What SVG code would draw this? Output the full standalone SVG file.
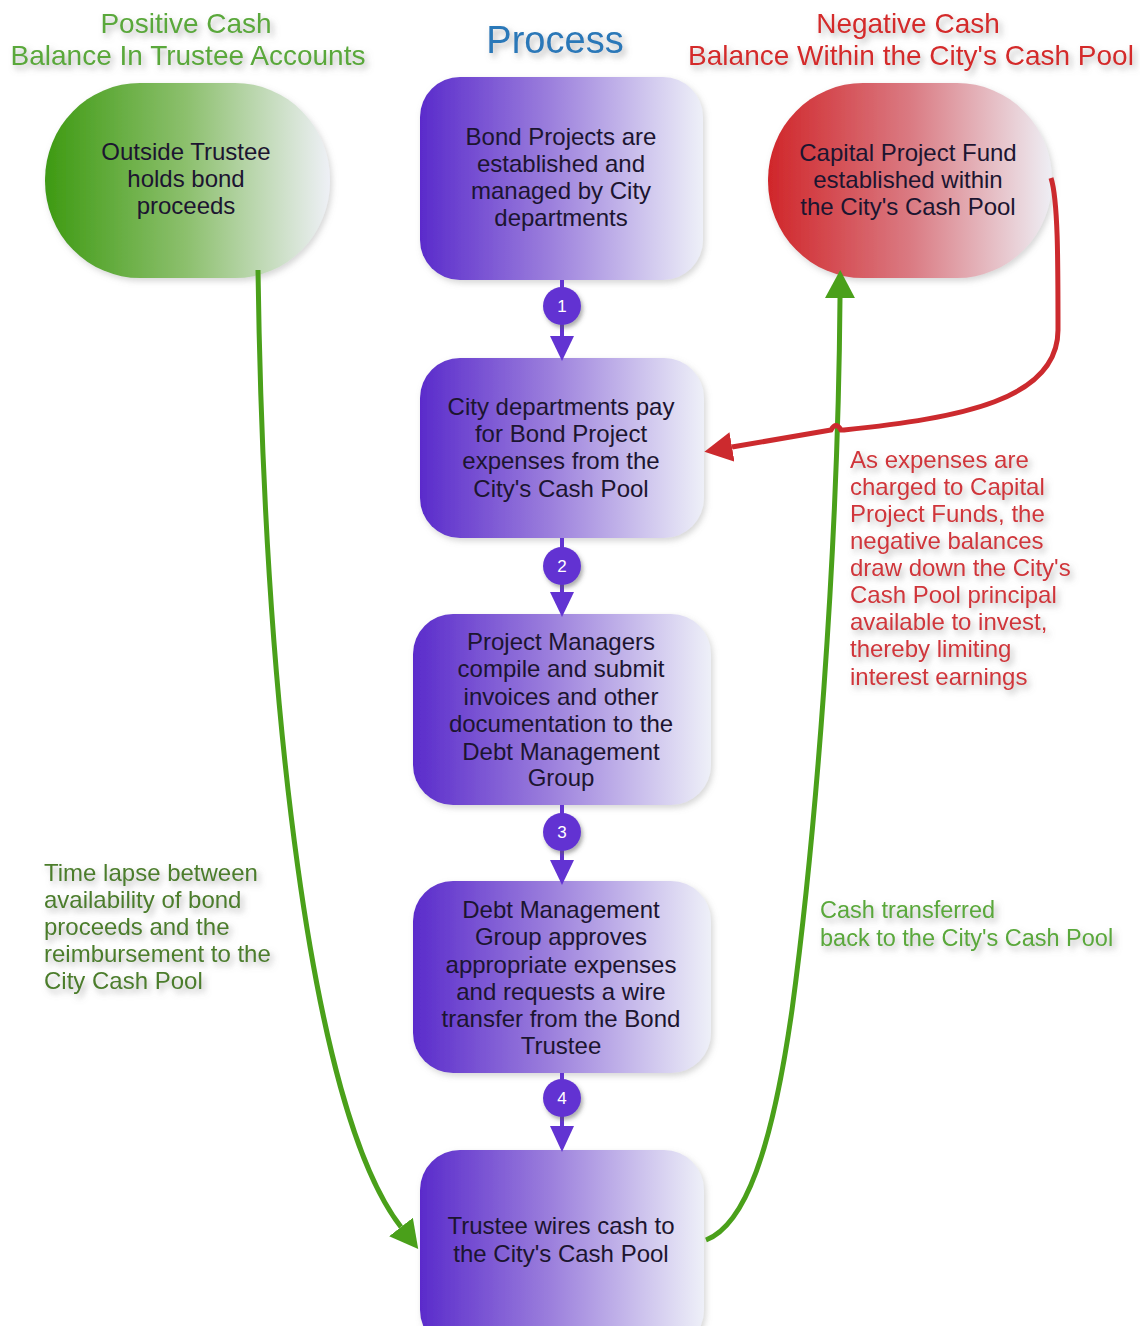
<svg xmlns="http://www.w3.org/2000/svg" width="1140" height="1326" viewBox="0 0 1140 1326">
<defs>
<style>
text{font-family:"Liberation Sans",Arial,sans-serif}
.t{font-size:28px;text-anchor:middle}
.b{font-size:24px;fill:#1c1530;text-anchor:middle}
.n{font-size:17px;fill:#ffffff;text-anchor:middle}
.a{font-size:24px}
.step{stroke:#6233d2;stroke-width:4;fill:none}
.stepc{fill:#6233d2}
</style>
<linearGradient id="gP" x1="0" y1="0" x2="1" y2="0">
<stop offset="0" stop-color="#5a2bcb"/><stop offset="0.45" stop-color="#9a7ddc"/><stop offset="1" stop-color="#eef0f8"/>
</linearGradient>
<linearGradient id="gG" x1="0" y1="0" x2="1" y2="0">
<stop offset="0" stop-color="#3e9a12"/><stop offset="0.5" stop-color="#8dc06e"/><stop offset="1" stop-color="#eef0f6"/>
</linearGradient>
<linearGradient id="gR" x1="0" y1="0" x2="1" y2="0">
<stop offset="0" stop-color="#d0262a"/><stop offset="0.5" stop-color="#da7a82"/><stop offset="1" stop-color="#eeeef4"/>
</linearGradient>
<filter id="ts" x="-10%" y="-30%" width="125%" height="180%"><feDropShadow dx="3" dy="4" stdDeviation="3" flood-color="#777" flood-opacity="0.55"/></filter>
<filter id="bs" x="-10%" y="-10%" width="125%" height="125%"><feDropShadow dx="2" dy="3" stdDeviation="3" flood-color="#888" flood-opacity="0.35"/></filter>
<filter id="cs" x="-40%" y="-40%" width="190%" height="190%"><feDropShadow dx="2" dy="3" stdDeviation="2" flood-color="#555" flood-opacity="0.5"/></filter>
<marker id="mG" markerUnits="userSpaceOnUse" markerWidth="28" markerHeight="30" refX="0" refY="15" orient="auto" viewBox="0 0 28 30"><path d="M0,0 L28,15 L0,30 z" fill="#4aa01a"/></marker>
<marker id="mR" markerUnits="userSpaceOnUse" markerWidth="28" markerHeight="30" refX="0" refY="15" orient="auto" viewBox="0 0 28 30"><path d="M0,0 L28,15 L0,30 z" fill="#cc2a2e"/></marker>
</defs>
<rect width="1140" height="1326" fill="#ffffff"/>

<g id="titles" filter="url(#ts)">
<text class="t" x="186" y="33" fill="#5aa83a">Positive Cash</text>
<text class="t" x="188" y="65" fill="#5aa83a">Balance In Trustee Accounts</text>
<text x="555" y="53" style="font-size:38px;text-anchor:middle" fill="#2a78b8">Process</text>
<text class="t" x="908" y="33" fill="#d42a2a">Negative Cash</text>
<text class="t" x="911" y="65" fill="#d42a2a">Balance Within the City's Cash Pool</text>
</g>

<g id="node-trustee">
<rect x="45" y="83" width="285" height="195" rx="95" ry="97" fill="url(#gG)" filter="url(#bs)"/>
<text class="b" x="186" y="160">Outside Trustee</text>
<text class="b" x="186" y="187">holds bond</text>
<text class="b" x="186" y="214">proceeds</text>
</g>

<g id="node-capital">
<rect x="768" y="83" width="284" height="195" rx="95" ry="97" fill="url(#gR)" filter="url(#bs)"/>
<text class="b" x="908" y="161">Capital Project Fund</text>
<text class="b" x="908" y="188">established within</text>
<text class="b" x="908" y="215">the City's Cash Pool</text>
</g>

<g id="node-step1">
<rect x="420" y="77" width="283" height="203" rx="40" fill="url(#gP)" filter="url(#bs)"/>
<text class="b" x="561" y="145">Bond Projects are</text>
<text class="b" x="561" y="172">established and</text>
<text class="b" x="561" y="199">managed by City</text>
<text class="b" x="561" y="226">departments</text>
</g>

<g id="node-step2">
<rect x="420" y="358" width="284" height="180" rx="40" fill="url(#gP)" filter="url(#bs)"/>
<text class="b" x="561" y="415">City departments pay</text>
<text class="b" x="561" y="442">for Bond Project</text>
<text class="b" x="561" y="469">expenses from the</text>
<text class="b" x="561" y="497">City's Cash Pool</text>
</g>

<g id="node-step3">
<rect x="413" y="614" width="298" height="191" rx="40" fill="url(#gP)" filter="url(#bs)"/>
<text class="b" x="561" y="650">Project Managers</text>
<text class="b" x="561" y="677">compile and submit</text>
<text class="b" x="561" y="705">invoices and other</text>
<text class="b" x="561" y="732">documentation to the</text>
<text class="b" x="561" y="760">Debt Management</text>
<text class="b" x="561" y="786">Group</text>
</g>

<g id="node-step4">
<rect x="413" y="881" width="298" height="192" rx="40" fill="url(#gP)" filter="url(#bs)"/>
<text class="b" x="561" y="918">Debt Management</text>
<text class="b" x="561" y="945">Group approves</text>
<text class="b" x="561" y="973">appropriate expenses</text>
<text class="b" x="561" y="1000">and requests a wire</text>
<text class="b" x="561" y="1027">transfer from the Bond</text>
<text class="b" x="561" y="1054">Trustee</text>
</g>

<g id="node-step5">
<rect x="420" y="1150" width="284" height="200" rx="40" fill="url(#gP)" filter="url(#bs)"/>
<text class="b" x="561" y="1234">Trustee wires cash to</text>
<text class="b" x="561" y="1262">the City's Cash Pool</text>
</g>

<g id="connectors">
<g id="steps">
<path class="step" d="M562,280 V338"/><path class="stepc" d="M550,336 L574,336 L562,361 z"/>
<path class="step" d="M562,538 V594"/><path class="stepc" d="M550,592 L574,592 L562,617 z"/>
<path class="step" d="M562,805 V862"/><path class="stepc" d="M550,860 L574,860 L562,885 z"/>
<path class="step" d="M562,1073 V1128"/><path class="stepc" d="M550,1126 L574,1126 L562,1152 z"/>
<g filter="url(#cs)">
<circle cx="562" cy="306" r="19" fill="#6233d2"/>
<circle cx="562" cy="566" r="19" fill="#6233d2"/>
<circle cx="562" cy="832" r="19" fill="#6233d2"/>
<circle cx="562" cy="1098" r="19" fill="#6233d2"/>
</g>
<text class="n" x="562" y="312">1</text>
<text class="n" x="562" y="572">2</text>
<text class="n" x="562" y="838">3</text>
<text class="n" x="562" y="1104">4</text>
</g>
<path id="flow-left" d="M258,270 C264,700 310,1110 401,1227" fill="none" stroke="#4aa01a" stroke-width="5" marker-end="url(#mG)"/>
<path id="flow-right" d="M706,1240 C745,1225 772,1150 792,1010 C815,840 838,560 840,298" fill="none" stroke="#4aa01a" stroke-width="5" marker-end="url(#mG)"/>
<path id="flow-red" d="M1051,178 C1058,200 1058,260 1058,330 C1058,400 960,418 844,430 L841,430 Q836,421 831,430 L732,447" fill="none" stroke="#cc2a2e" stroke-width="5" marker-end="url(#mR)"/>
</g>

<g id="notes" filter="url(#ts)">
<g fill="#d0353a">
<text class="a" x="850" y="468">As expenses are</text>
<text class="a" x="850" y="495">charged to Capital</text>
<text class="a" x="850" y="522">Project Funds, the</text>
<text class="a" x="850" y="549">negative balances</text>
<text class="a" x="850" y="576">draw down the City's</text>
<text class="a" x="850" y="603">Cash Pool principal</text>
<text class="a" x="850" y="630">available to invest,</text>
<text class="a" x="850" y="657">thereby limiting</text>
<text class="a" x="850" y="685">interest earnings</text>
</g>
<g fill="#4c7d2c">
<text class="a" x="44" y="881">Time lapse between</text>
<text class="a" x="44" y="908">availability of bond</text>
<text class="a" x="44" y="935">proceeds and the</text>
<text class="a" x="44" y="962">reimbursement  to the</text>
<text class="a" x="44" y="989">City Cash Pool</text>
</g>
<g fill="#5aa83a">
<text x="820" y="918" style="font-size:23.5px">Cash transferred</text>
<text x="820" y="946" style="font-size:23.5px">back to the City's Cash Pool</text>
</g>
</g>
</svg>
